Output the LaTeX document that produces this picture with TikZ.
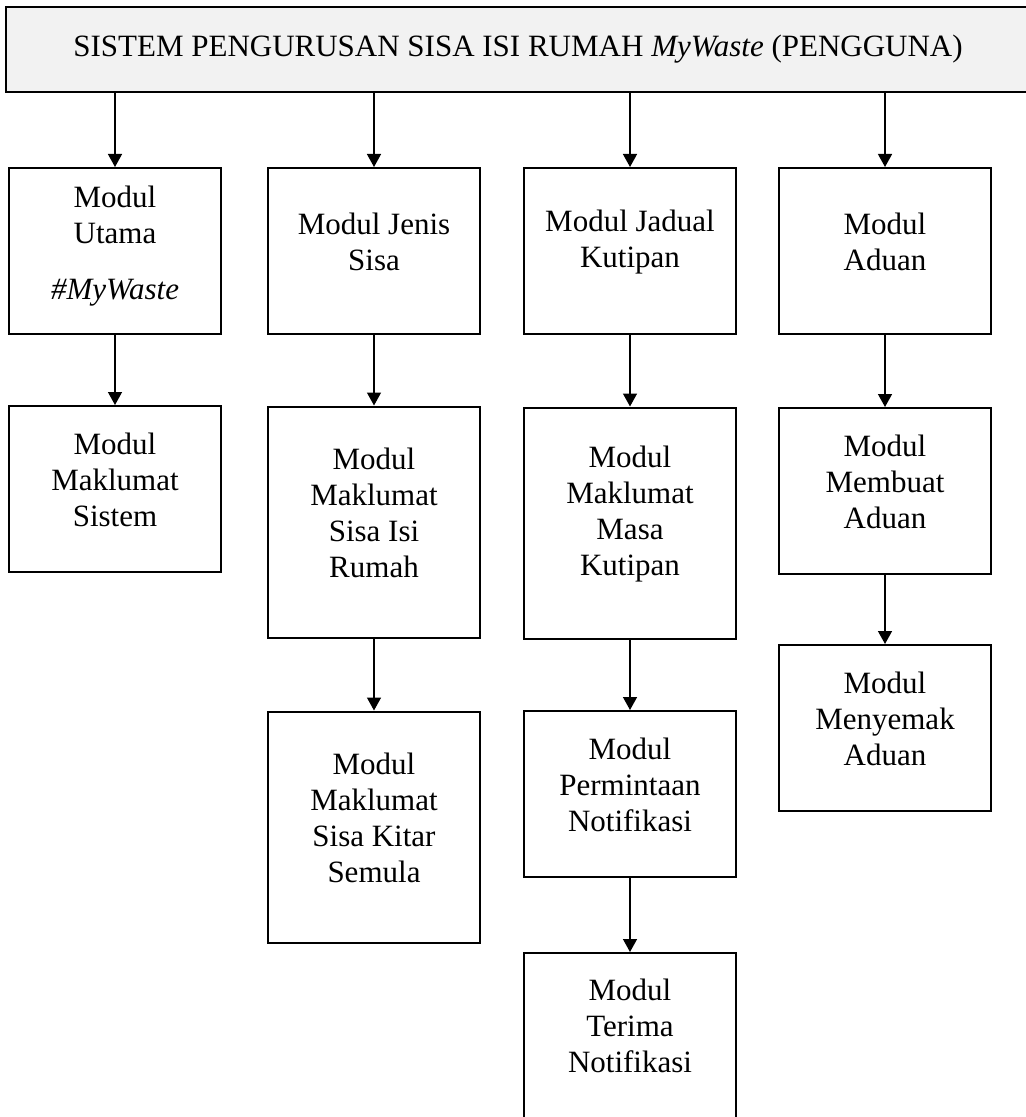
\documentclass[tikz,border=0pt]{standalone}
\usepackage{fontspec}
\setmainfont{Liberation Serif}
\usepackage{tikz}
\usetikzlibrary{arrows.meta}

\definecolor{headgray}{RGB}{242,242,242}

\begin{document}
\begin{tikzpicture}[x=0.5pt,y=-0.5pt,
    modul/.style={draw, line width=1pt, minimum width=106pt, minimum height=83pt, inner sep=0pt},
    tall/.style={modul, minimum height=115.5pt},
    modtext/.style={align=center, inner sep=0pt, font=\fontsize{15.5pt}{18pt}\selectfont},
    arr/.style={-{Triangle[width=7pt,length=6.5pt]}, line width=0.7pt}]
    \useasboundingbox (0,0) rectangle (1025,1117);
    \node[draw, line width=1pt, fill=headgray, minimum width=512pt, minimum height=42.5pt, inner sep=0pt,
          font=\fontsize{15.5pt}{18pt}\selectfont] (top) at (518,49.5)
          {SISTEM PENGURUSAN SISA ISI RUMAH \textit{MyWaste} (PENGGUNA)};

    % baris pertama
    \node[modul] (u1) at (115,251) {};
    \node[modul] (u2) at (374,251) {};
    \node[modul] (u3) at (630,251) {};
    \node[modul] (u4) at (885,251) {};
    \node[modtext] (u1t) at ([yshift=2.5pt]u1) {Modul\\Utama\\[10pt]\textit{\#MyWaste}};
    \node[modtext] (u2t) at ([yshift=4.5pt]u2) {Modul Jenis\\Sisa};
    \node[modtext] (u3t) at ([yshift=4.5pt]u3) {Modul Jadual\\Kutipan};
    \node[modtext] (u4t) at ([yshift=4.5pt]u4) {Modul\\Aduan};

    % baris kedua
    \node[modul] (s1) at (115,489) {};
    \node[tall] (s2) at (374,522) {};
    \node[tall] (s3) at (630,523) {};
    \node[modul] (s4) at (885,491) {};
    \node[modtext] (s1t) at ([yshift=4.5pt]s1) {Modul\\Maklumat\\Sistem};
    \node[modtext] (s2t) at ([yshift=4.5pt]s2) {Modul\\Maklumat\\Sisa Isi\\Rumah};
    \node[modtext] (s3t) at ([yshift=4.5pt]s3) {Modul\\Maklumat\\Masa\\Kutipan};
    \node[modtext] (s4t) at ([yshift=4.5pt]s4) {Modul\\Membuat\\Aduan};

    % baris ketiga
    \node[tall] (k2) at (374,827) {};
    \node[modul] (k3) at (630,794) {};
    \node[modul] (k4) at (885,728) {};
    \node[modtext] (k2t) at ([yshift=4.5pt]k2) {Modul\\Maklumat\\Sisa Kitar\\Semula};
    \node[modtext] (k3t) at ([yshift=4.5pt]k3) {Modul\\Permintaan\\Notifikasi};
    \node[modtext] (k4t) at ([yshift=4.5pt]k4) {Modul\\Menyemak\\Aduan};

    % baris keempat
    \node[modul, minimum height=84pt] (t3) at (630,1037) {};
    \node[modtext] (t3t) at ([yshift=5.5pt]t3) {Modul\\Terima\\Notifikasi};

    \draw[arr] (top.south -| u1) -- (u1);
    \draw[arr] (top.south -| u2) -- (u2);
    \draw[arr] (top.south -| u3) -- (u3);
    \draw[arr] (top.south -| u4) -- (u4);
    \draw[arr] (u1) -- (s1);
    \draw[arr] (u2) -- (s2);
    \draw[arr] (u3) -- (s3);
    \draw[arr] (u4) -- (s4);
    \draw[arr] (s2) -- (k2);
    \draw[arr] (s3) -- (k3);
    \draw[arr] (s4) -- (k4);
    \draw[arr] (k3) -- (t3);
\end{tikzpicture}
\end{document}
